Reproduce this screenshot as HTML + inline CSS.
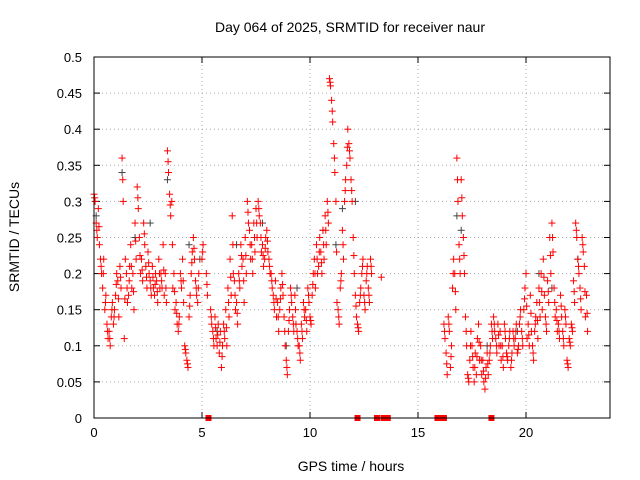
<!DOCTYPE html>
<html><head><meta charset="utf-8"><style>
body{margin:0;background:#fff;}
svg{display:block;font-family:"Liberation Sans",sans-serif;}
</style></head><body>
<svg id="chart" width="640" height="480">
<rect width="640" height="480" fill="#fff"/>
<text x="350" y="32" font-size="14" text-anchor="middle">Day 064 of 2025, SRMTID for receiver naur</text>
<text x="351" y="471" font-size="14" text-anchor="middle">GPS time / hours</text>
<text transform="translate(19,237) rotate(-90)" font-size="14" text-anchor="middle">SRMTID / TECUs</text>
<g id="grid"></g><g id="marks"></g>
<rect x="94" y="57" width="516" height="361" fill="none" stroke="#000"/>
</svg>
<script>
const xTicks=[0,5,10,15,20];
const yTicks=[0,0.05,0.1,0.15,0.2,0.25,0.3,0.35,0.4,0.45,0.5];
const redHours=[0,0.1,0.2,0.3,0.4,0.5,0.6,0.7,0.8,0.9,1,1.1,1.2,1.3,1.4,1.5,1.6,1.7,1.8,1.9,2,2.1,2.2,2.3,2.4,2.5,2.6,2.7,2.8,2.9,3,3.1,3.2,3.3,3.4,3.5,3.6,3.7,3.8,3.9,4,4.1,4.2,4.3,4.4,4.5,4.6,4.7,4.8,5,5.2,5.4,5.5,5.6,5.7,5.8,5.9,6,6.1,6.2,6.3,6.4,6.5,6.6,6.7,6.8,6.9,7,7.1,7.2,7.3,7.4,7.5,7.6,7.7,7.8,7.9,8,8.1,8.2,8.3,8.4,8.5,8.6,8.7,8.8,8.9,9,9.1,9.2,9.3,9.4,9.5,9.6,9.7,9.8,9.9,10,10.1,10.2,10.3,10.4,10.5,10.6,10.7,10.8,10.9,11,11.1,11.2,11.3,11.4,11.5,11.6,11.7,11.8,11.9,12,12.1,12.2,12.3,12.4,12.5,12.6,12.7,12.8,16.2,16.3,16.4,16.5,16.6,16.7,16.8,16.9,17,17.1,17.2,17.3,17.4,17.5,17.6,17.7,17.8,17.9,18,18.1,18.2,18.3,18.4,18.5,18.6,18.7,18.8,18.9,19,19.1,19.2,19.3,19.4,19.5,19.6,19.7,19.8,19.9,20,20.1,20.2,20.3,20.4,20.5,20.6,20.7,20.8,20.9,21,21.1,21.2,21.3,21.4,21.5,21.6,21.7,21.8,21.9,22,22.1,22.2,22.3,22.4,22.5,22.6,22.7,22.8];
const redHigh=[0.31,0.27,0.29,0.22,0.18,0.15,0.13,0.12,0.14,0.13,0.17,0.19,0.21,0.36,0.11,0.2,0.17,0.24,0.2,0.27,0.32,0.25,0.22,0.27,0.21,0.23,0.19,0.21,0.17,0.19,0.22,0.2,0.24,0.2,0.37,0.31,0.3,0.2,0.16,0.12,0.2,0.22,0.1,0.08,0.14,0.2,0.25,0.19,0.16,0.22,0.2,0.15,0.12,0.14,0.1,0.09,0.07,0.13,0.15,0.18,0.22,0.28,0.19,0.16,0.2,0.24,0.22,0.25,0.3,0.26,0.24,0.27,0.29,0.3,0.27,0.24,0.22,0.26,0.22,0.2,0.17,0.19,0.16,0.15,0.2,0.14,0.08,0.12,0.18,0.14,0.17,0.12,0.1,0.13,0.16,0.15,0.18,0.14,0.17,0.22,0.24,0.21,0.23,0.26,0.28,0.3,0.47,0.44,0.38,0.3,0.15,0.18,0.26,0.3,0.35,0.38,0.33,0.25,0.17,0.13,0.16,0.2,0.17,0.19,0.18,0.22,0.13,0.09,0.14,0.07,0.18,0.2,0.36,0.24,0.33,0.25,0.14,0.06,0.08,0.1,0.05,0.06,0.13,0.1,0.08,0.04,0.09,0.08,0.13,0.14,0.11,0.13,0.12,0.1,0.13,0.09,0.1,0.07,0.12,0.11,0.09,0.13,0.12,0.15,0.2,0.13,0.17,0.1,0.12,0.16,0.18,0.2,0.22,0.14,0.19,0.25,0.27,0.18,0.15,0.13,0.17,0.12,0.15,0.08,0.11,0.13,0.19,0.27,0.22,0.18,0.25,0.21,0.17];
const redLow=[0.3,0.25,0.24,0.2,0.22,0.17,0.11,0.1,0.16,0.15,0.2,0.14,0.18,0.3,0.22,0.16,0.21,0.18,0.15,0.22,0.29,0.2,0.19,0.24,0.18,0.2,0.17,0.18,0.2,0.16,0.18,0.18,0.17,0.16,0.34,0.28,0.18,0.15,0.13,0.14,0.18,0.16,0.09,0.07,0.17,0.23,0.22,0.17,0.2,0.24,0.17,0.13,0.1,0.11,0.13,0.12,0.1,0.11,0.1,0.14,0.17,0.2,0.15,0.13,0.18,0.21,0.16,0.2,0.27,0.22,0.2,0.23,0.25,0.28,0.23,0.21,0.25,0.23,0.2,0.18,0.15,0.14,0.12,0.18,0.17,0.1,0.06,0.15,0.16,0.12,0.13,0.1,0.08,0.11,0.14,0.12,0.16,0.13,0.2,0.18,0.2,0.25,0.2,0.22,0.24,0.27,0.46,0.41,0.34,0.16,0.13,0.2,0.22,0.33,0.4,0.36,0.3,0.2,0.14,0.12,0.18,0.22,0.15,0.21,0.16,0.2,0.11,0.06,0.12,0.1,0.22,0.15,0.3,0.2,0.28,0.2,0.1,0.05,0.12,0.07,0.09,0.11,0.08,0.06,0.05,0.07,0.06,0.1,0.11,0.12,0.09,0.1,0.08,0.07,0.11,0.08,0.12,0.09,0.1,0.13,0.1,0.15,0.1,0.18,0.11,0.1,0.12,0.08,0.14,0.11,0.14,0.15,0.17,0.12,0.16,0.2,0.23,0.14,0.12,0.11,0.14,0.1,0.13,0.07,0.1,0.12,0.16,0.25,0.2,0.15,0.23,0.14,0.12];
const redExtraHours=[13.3];
const redExtraVals=[0.195];
const zeroHours=[5.3,12.2,13.1,13.4,13.6,15.9,16.0,16.2,18.4];
const grayHours=[0.1,1.3,1.9,2.6,3.4,4.4,4.9,5.7,6.6,7.8,8.9,9.4,10.6,11.2,11.5,12.1,16.8,17.0,18.2,19.6,20.6,21.2,22.4];
const grayVals=[0.28,0.34,0.25,0.27,0.33,0.24,0.22,0.12,0.24,0.27,0.1,0.18,0.26,0.24,0.29,0.3,0.28,0.26,0.1,0.12,0.2,0.18,0.22];
const X=h=>94+h*21.6;
const Y=v=>418-v*722;
const NS='http://www.w3.org/2000/svg';
const grid=document.getElementById('grid'),marks=document.getElementById('marks'),svg=document.getElementById('chart');
function line(p,x1,y1,x2,y2,st,dash){const l=document.createElementNS(NS,'line');l.setAttribute('x1',x1);l.setAttribute('y1',y1);l.setAttribute('x2',x2);l.setAttribute('y2',y2);l.setAttribute('stroke',st);if(dash)l.setAttribute('stroke-dasharray',dash);p.appendChild(l);return l;}
xTicks.forEach(t=>{const x=X(t);
 const g=line(grid,x,57,x,418,'#aaa','1,3');
 
 
 line(grid,x,418,x,412,'#000');line(grid,x,57,x,63,'#000');
 const tx=document.createElementNS(NS,'text');tx.setAttribute('x',x);tx.setAttribute('y',437);tx.setAttribute('font-size','13');tx.setAttribute('text-anchor','middle');tx.textContent=t;
 
 
 svg.appendChild(tx);});
yTicks.forEach(t=>{const y=Y(t);
 const g=line(grid,94,y,610,y,'#aaa','1,3');
 
 
 line(grid,94,y,100,y,'#000');line(grid,610,y,604,y,'#000');
 const tx=document.createElementNS(NS,'text');tx.setAttribute('x',82);tx.setAttribute('y',y+5);tx.setAttribute('font-size','13');tx.setAttribute('text-anchor','end');tx.textContent=String(t);
 
 
 svg.appendChild(tx);});
function plus(h,v,c,name){const x=X(h),y=Y(v);const g=document.createElementNS(NS,'g');
 
 
 line(g,x-3.5,y,x+3.5,y,c);line(g,x,y-3.5,x,y+3.5,c);marks.appendChild(g);}
grayHours.forEach((h,i)=>plus(h,grayVals[i],'#444','gray-point'));
redHours.forEach((h,i)=>{plus(h,redHigh[i],'#f00','red-point');plus(h+0.05,redLow[i],'#f00','red-point');plus(h+0.03,(redHigh[i]+redLow[i])/2,'#f00','red-point');});
redExtraHours.forEach((h,i)=>plus(h,redExtraVals[i],'#f00','red-point'));
zeroHours.forEach(h=>{const r=document.createElementNS(NS,'rect');r.setAttribute('x',X(h)-3);r.setAttribute('y',415);r.setAttribute('width',6);r.setAttribute('height',6);r.setAttribute('fill','#f00');
 
 
 marks.appendChild(r);});
</script>
</body></html>
